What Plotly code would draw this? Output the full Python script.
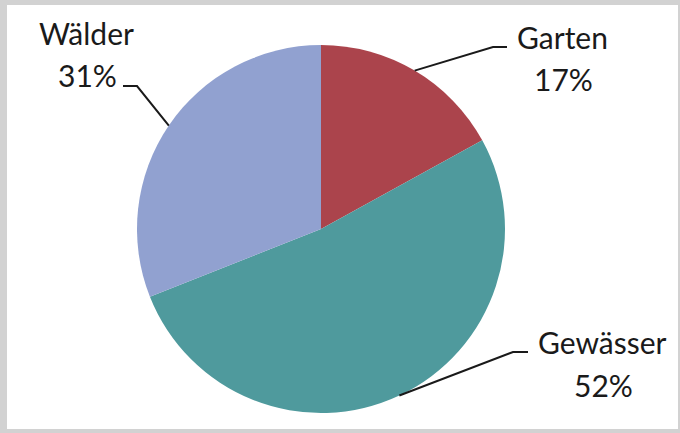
import math
import plotly.graph_objects as go

# ---- data ----
categories = ["Garten", "Gewässer", "Wälder"]
values = [17, 52, 31]
colors = ["#ab444c", "#4f9a9d", "#91a1d0"]

W, H = 680, 433
# pie geometry (pixels)
CX, CY, R = 321, 229, 184

def px(x):
    return x / W

def py(y):
    return 1 - y / H

# label placement (pixel): name centre, pct centre, elbow point, end of horizontal
label_pos = {
    "Garten":   dict(name=(562, 37), pct=(563, 79), elbow=(493, 47), end=(507, 47)),
    "Gewässer": dict(name=(602, 342), pct=(603, 385), elbow=(513, 352), end=(528, 352)),
    "Wälder":   dict(name=(86, 33), pct=(87, 75), elbow=(137, 86), end=(123, 86)),
}

fig = go.Figure()
fig.add_trace(go.Pie(
    labels=categories,
    values=values,
    sort=False,
    direction="clockwise",
    rotation=0,
    marker=dict(colors=colors, line=dict(width=0)),
    textinfo="none",
    hoverinfo="label+percent",
    showlegend=False,
    domain=dict(x=[px(CX - R), px(CX + R)], y=[py(CY + R), py(CY - R)]),
))

total = sum(values)
cum = 0.0
shapes = []
annotations = []
font = dict(family="Lato, Open Sans, sans-serif", size=30, color="#1a1a1a")
for cat, v in zip(categories, values):
    mid = (cum + v / 2) / total * 2 * math.pi
    cum += v
    ex = CX + R * math.sin(mid)
    ey = CY - R * math.cos(mid)
    lp = label_pos[cat]
    path = "M {} {} L {} {} L {} {}".format(
        px(ex), py(ey), px(lp["elbow"][0]), py(lp["elbow"][1]),
        px(lp["end"][0]), py(lp["end"][1]))
    shapes.append(dict(type="path", xref="paper", yref="paper", path=path,
                       line=dict(color="#1a1a1a", width=2)))
    pct = round(v / total * 100)
    annotations.append(dict(text=cat, x=px(lp["name"][0]), y=py(lp["name"][1]),
                            xref="paper", yref="paper", showarrow=False,
                            xanchor="center", yanchor="middle", font=font))
    annotations.append(dict(text=f"{pct}%", x=px(lp["pct"][0]), y=py(lp["pct"][1]),
                            xref="paper", yref="paper", showarrow=False,
                            xanchor="center", yanchor="middle", font=font))

# grey frame around the chart
frame_col = "#d2d2d2"
for (x0, y0, x1, y1) in [(0, 0, 7, H), (0, 0, W, 5), (0, 429, W, H), (678, 0, W, H)]:
    shapes.append(dict(type="rect", xref="paper", yref="paper",
                       x0=px(x0), x1=px(x1), y0=py(y1), y1=py(y0),
                       fillcolor=frame_col, line=dict(width=0), layer="above"))

fig.update_layout(
    width=W, height=H,
    margin=dict(l=0, r=0, t=0, b=0),
    paper_bgcolor="white",
    plot_bgcolor="white",
    shapes=shapes,
    annotations=annotations,
)

fig.write_html("out.html")
